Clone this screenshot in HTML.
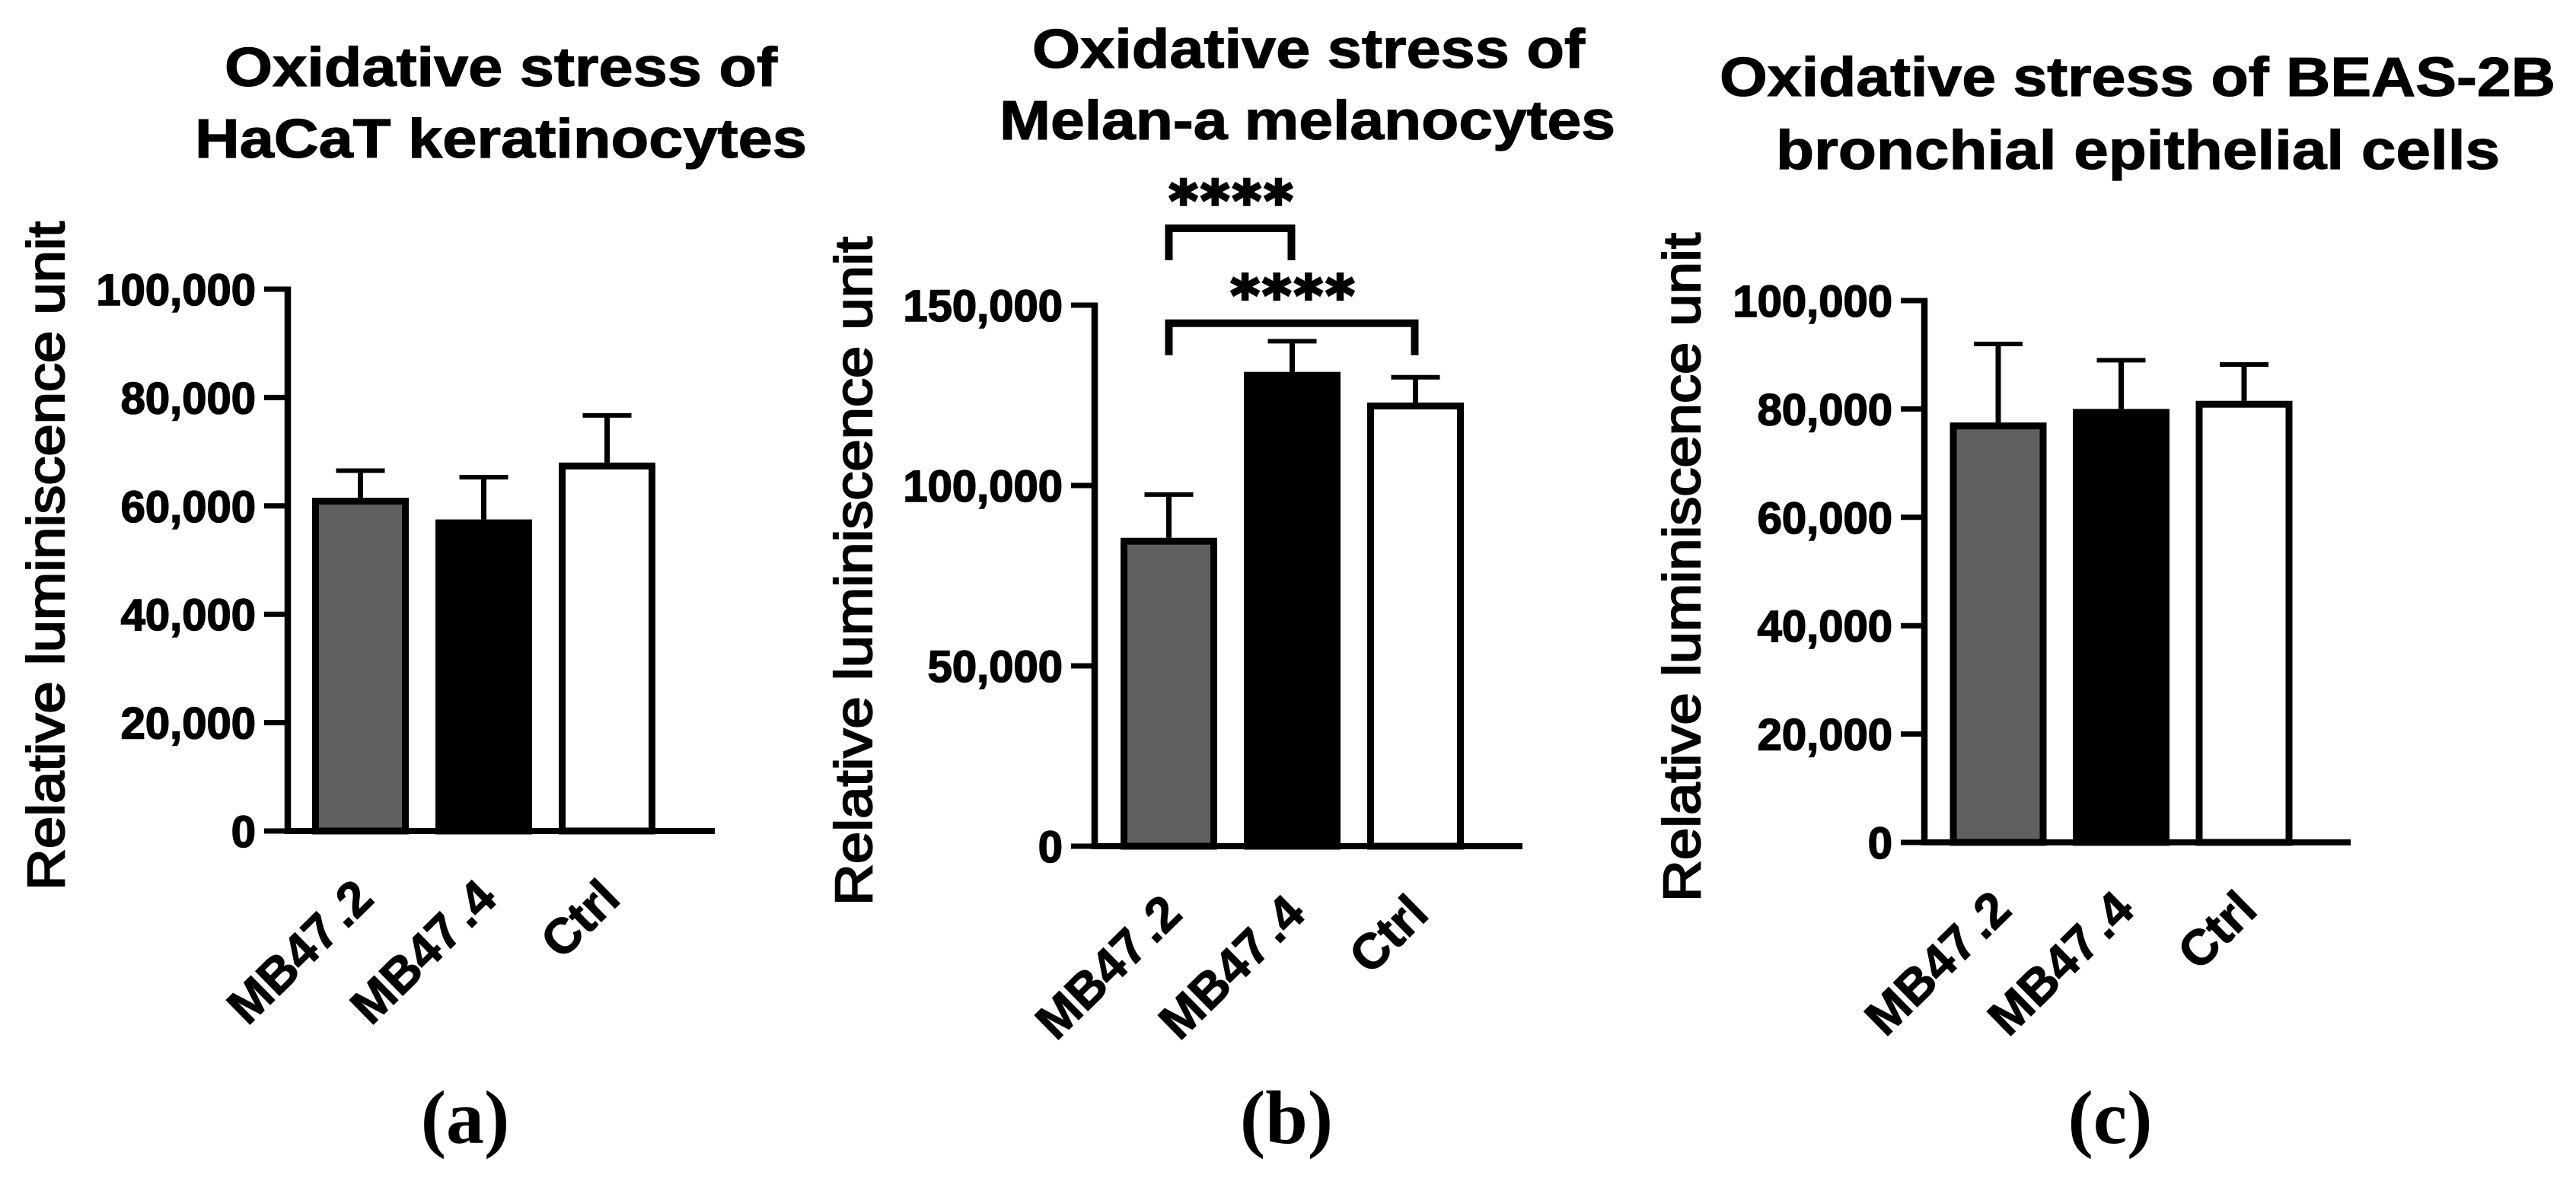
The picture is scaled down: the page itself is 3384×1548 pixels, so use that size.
<!DOCTYPE html>
<html lang="en">
<head>
<meta charset="utf-8">
<title>Oxidative stress bar charts</title>
<style>
html,body{margin:0;padding:0;background:#fff;width:3384px;height:1548px;overflow:hidden}
svg{display:block}
text{fill:#000;font-family:"Liberation Sans",Arial,sans-serif}
.title{font-weight:700;font-size:72px;text-anchor:start;stroke:#000;stroke-width:1.2px}
.tick{font-weight:700;font-size:58px;text-anchor:end;stroke:#000;stroke-width:1.6px}
.ylab{font-weight:400;font-size:69px;text-anchor:start;stroke:#000;stroke-width:2.2px}
.xlab{font-weight:700;font-size:65px;text-anchor:end;stroke:#000;stroke-width:1.2px;word-spacing:-10px}
.stars{font-family:"DejaVu Sans",sans-serif;font-weight:700;font-size:72px;text-anchor:middle;letter-spacing:4px;stroke:#000;stroke-width:3.5px}
.panel{font-family:"Liberation Serif",serif;font-weight:700;font-size:100px;text-anchor:middle}
</style>
</head>
<body>
<svg id="fig" xmlns="http://www.w3.org/2000/svg" width="3384" height="1548" viewBox="0 0 3384 1548"></svg>
<script>
const categories = ['MB47 .2', 'MB47 .4', 'Ctrl'];
const barFills = ['#606060', '#000000', '#ffffff'];

const valuesA = [61500, 57500, 68000];
const errorTopsA = [66500, 65300, 76700];
const ticksA = [0, 20000, 40000, 60000, 80000, 100000];

const valuesB = [85500, 131500, 123000];
const errorTopsB = [97500, 140000, 130000];
const ticksB = [0, 50000, 100000, 150000];

const valuesC = [77500, 80000, 81500];
const errorTopsC = [92000, 89000, 88200];
const ticksC = [0, 20000, 40000, 60000, 80000, 100000];

const bracketFromB = [0, 0];
const bracketToB = [1, 2];
const bracketLevelB = [171300, 145000];

const NS = 'http://www.w3.org/2000/svg';
const fig = document.getElementById('fig');

function mk(tag, parent) {
  const el = document.createElementNS(NS, tag);
  parent.appendChild(el);
  return el;
}
function line(parent, x1, y1, x2, y2, w) {
  const el = mk('line', parent);
  el.setAttribute('x1', x1);
  el.setAttribute('y1', y1);
  el.setAttribute('x2', x2);
  el.setAttribute('y2', y2);
  el.setAttribute('stroke', '#000');
  el.setAttribute('stroke-width', w);
  return el;
}
function label(parent, cls, x, y, str, len) {
  const el = mk('text', parent);
  el.setAttribute('class', cls);
  el.setAttribute('x', x);
  el.setAttribute('y', y);
  if (len) {
    el.setAttribute('textLength', len);
    el.setAttribute('lengthAdjust', 'spacingAndGlyphs');
  }
  el.textContent = str;
  return el;
}

function drawPanel(cfg) {
  const g = mk('g', fig);
  
  

  const yScale = v => cfg.y0 - (v / cfg.yMax) * (cfg.y0 - cfg.yTop);
  const xScale = i => cfg.axisX + cfg.firstOffset + i * cfg.step;
  const barOuter = 127;
  const barStroke = 9;

  cfg.titles.forEach(t => {
    const el = label(g, 'title', t.x, t.y, t.text, t.len);
    
    
  });

  const yl = label(g, 'ylab', 0, 0, 'Relative luminiscence unit', cfg.yLabelLen);
  yl.setAttribute('transform', 'translate(' + cfg.yLabelX + ' ' + cfg.yLabelBottom + ') rotate(-90)');
  
  

  // bars and error bars
  cfg.values.forEach((v, i) => {
    const cx = xScale(i);
    const top = yScale(v);
    const errTop = yScale(cfg.errorTops[i]);

    const stem = line(g, cx, top, cx, errTop, 7);
    
    
    const cap = line(g, cx - 32, errTop, cx + 32, errTop, 6);
    
    

    const bar = mk('rect', g);
    bar.setAttribute('x', cx - barOuter / 2 + barStroke / 2);
    bar.setAttribute('y', top + barStroke / 2);
    bar.setAttribute('width', barOuter - barStroke);
    bar.setAttribute('height', cfg.y0 - top - barStroke / 2);
    bar.setAttribute('fill', barFills[i]);
    bar.setAttribute('stroke', '#000');
    bar.setAttribute('stroke-width', barStroke);
    
    
  });

  // axes
  const ya = line(g, cfg.axisX, cfg.yTop - 3.5, cfg.axisX, cfg.y0 + 4, 8.5);
  
  
  const xa = line(g, cfg.axisX, cfg.y0, cfg.axisEnd, cfg.y0, 8);
  
  

  cfg.ticks.forEach(t => {
    const y = yScale(t);
    const tk = line(g, cfg.axisX - 31, y, cfg.axisX, y, 7);
    
    
    const tl = label(g, 'tick', cfg.axisX - 42, y + 21, t.toLocaleString('en-US'));
    
    
  });

  categories.forEach((c, i) => {
    const el = label(g, 'xlab', 0, 0, c);
    const px = xScale(i) + 20;
    const py = cfg.y0 + 92;
    el.setAttribute('transform', 'translate(' + px + ' ' + py + ') rotate(-44.5)');
    
    
  });

  if (cfg.bracketFrom) {
    cfg.bracketFrom.forEach((from, i) => {
      const x1 = xScale(from);
      const x2 = xScale(cfg.bracketTo[i]) - 1;
      const y = yScale(cfg.bracketLevel[i]);
      const legs = 42;
      const p = mk('path', g);
      p.setAttribute('d', 'M' + x1 + ' ' + (y + legs) + 'V' + y + 'H' + x2 + 'V' + (y + legs));
      p.setAttribute('fill', 'none');
      p.setAttribute('stroke', '#000');
      p.setAttribute('stroke-width', 10);
      
      
      const s = label(g, 'stars', (x1 + x2) / 2 + 3, y - 11, '****');
      
      
    });
  }

  const pl = label(g, 'panel', cfg.panelX, 1502, cfg.panelLabel);
  
  
}

drawPanel({
  name: 'hacat', panelLabel: '(a)', panelX: 611,
  values: valuesA, errorTops: errorTopsA, ticks: ticksA, yMax: 100000,
  axisX: 378, axisEnd: 939, yTop: 380, y0: 1092, firstOffset: 95.5, step: 162,
  yLabelX: 84, yLabelBottom: 1170, yLabelLen: 879,
  titles: [
    { text: 'Oxidative stress of', x: 295, y: 113, len: 726 },
    { text: 'HaCaT keratinocytes', x: 256, y: 207, len: 804 }
  ]
});

drawPanel({
  name: 'melan-a', panelLabel: '(b)', panelX: 1690,
  values: valuesB, errorTops: errorTopsB, ticks: ticksB, yMax: 150000,
  axisX: 1438, axisEnd: 2000, yTop: 401, y0: 1112, firstOffset: 97.5, step: 162,
  yLabelX: 1145, yLabelBottom: 1190, yLabelLen: 879,
  bracketFrom: bracketFromB, bracketTo: bracketToB, bracketLevel: bracketLevelB,
  titles: [
    { text: 'Oxidative stress of', x: 1356, y: 89, len: 726 },
    { text: 'Melan-a melanocytes', x: 1313, y: 183, len: 809 }
  ]
});

drawPanel({
  name: 'beas-2b', panelLabel: '(c)', panelX: 2772,
  values: valuesC, errorTops: errorTopsC, ticks: ticksC, yMax: 100000,
  axisX: 2528, axisEnd: 3088, yTop: 395, y0: 1107, firstOffset: 97, step: 161.5,
  yLabelX: 2233, yLabelBottom: 1185, yLabelLen: 879,
  titles: [
    { text: 'Oxidative stress of BEAS-2B', x: 2259, y: 126, len: 1098 },
    { text: 'bronchial epithelial cells', x: 2333, y: 222, len: 951 }
  ]
});
</script>
</body>
</html>
